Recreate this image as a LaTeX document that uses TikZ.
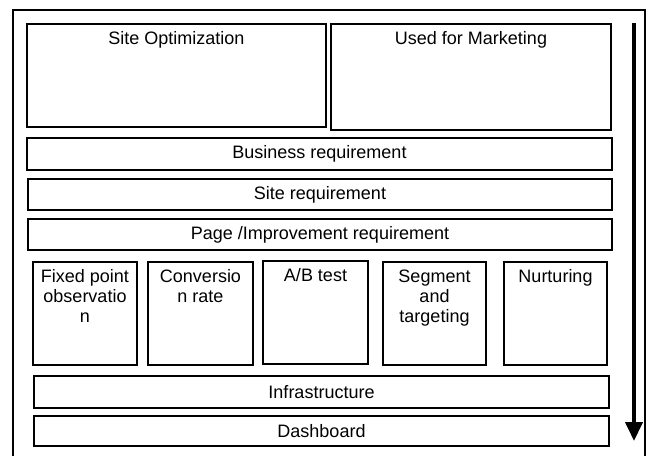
\documentclass[tikz,border=0pt]{standalone}
\usepackage{fontspec}
\setmainfont{Liberation Sans}
\usetikzlibrary{fit,arrows.meta}
\begin{document}
\begin{tikzpicture}[x=0.75pt,y=-0.75pt,
  box/.style={draw, line width=1.5pt, inner sep=0pt, fit={#1}},
  txt/.style={font=\fontsize{13.5}{15}\selectfont, align=center, inner sep=0pt},
  toplbl/.style={txt, anchor=north, yshift=-6.5pt},
  midlbl/.style={txt, anchor=center}]
\useasboundingbox (0,0) rectangle (648,455);
% outer frame (bottom edge cut off)
\draw[line width=1.5pt] (13,456) -- (13,10) -- (645,10) -- (645,456);
% top boxes
\node[box={(27,24) (326,127)}, label={[toplbl]north:Site Optimization}] (so) {};
\node[box={(331,24) (611,130)}, label={[toplbl]north:Used for Marketing}] (um) {};
% requirement bars
\node[box={(27,138) (612,170)}, label={[midlbl]center:Business requirement}] (br) {};
\node[box={(28,179) (612,210)}, label={[midlbl]center:Site requirement}] (sr) {};
\node[box={(28,219) (612,250)}, label={[midlbl]center:Page /Improvement requirement}] (pi) {};
% small boxes
\node[box={(33,262) (137,365)}, label={[toplbl]north:Fixed point\\observatio\\n}] (fp) {};
\node[box={(148,262) (253,365)}, label={[toplbl]north:Conversio\\n rate}] (cr) {};
\node[box={(263,261) (368,364)}, label={[toplbl]north:A/B test}] (ab) {};
\node[box={(383,262) (486,365)}, label={[toplbl]north:Segment\\and\\targeting}] (sg) {};
\node[box={(504,262) (607,365)}, label={[toplbl]north:Nurturing}] (nu) {};
% bottom bars
\node[box={(34,376) (609,408)}, label={[midlbl]center:Infrastructure}] (inf) {};
\node[box={(34,416) (609,446)}, label={[midlbl]center:Dashboard}] (db) {};
% arrow
\coordinate (atop) at (634,23);
\coordinate (abot) at (634,441);
\draw[line width=3pt, -{Triangle[width=12.75pt,length=14.25pt]}] (atop) -- (abot);
\end{tikzpicture}
\end{document}
